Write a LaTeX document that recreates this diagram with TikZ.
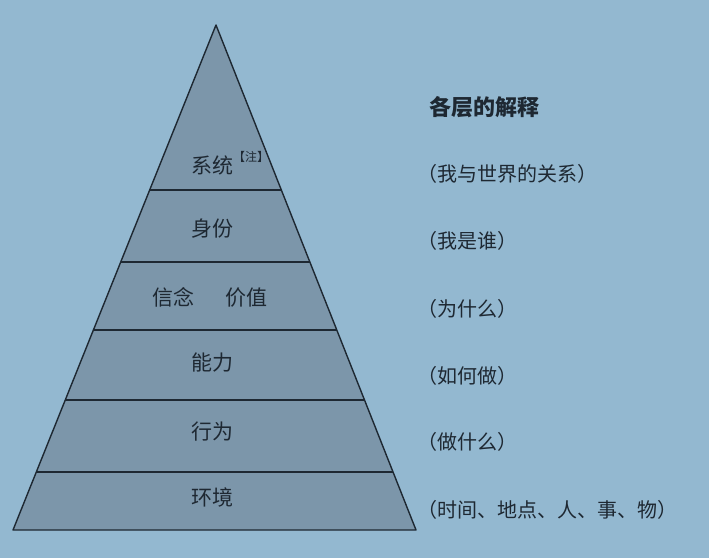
\documentclass[tikz,border=0pt]{standalone}
\usepackage{fontspec}
\newfontfamily\cjk{Noto Sans CJK SC}
\usepackage{tikz}
\usetikzlibrary{positioning, calc}
\definecolor{bgblue}{RGB}{147,184,208}
\definecolor{pyrfill}{RGB}{124,150,170}
\definecolor{inkdark}{RGB}{30,40,50}

\begin{document}
\begin{tikzpicture}[
    x=1pt, y=-1pt,
    layer/.style={font=\cjk\fontsize{21}{21}\selectfont, text=inkdark},
    note/.style={font=\cjk\fontsize{20}{20}\selectfont, text=inkdark, anchor=west},
    edge/.style={draw=inkdark, line width=1.4pt, line join=round},
]

\fill[bgblue] (0,0) rectangle (709,558);
\useasboundingbox (0,0) rectangle (709,558);

% pyramid
\coordinate (apex) at (216,25);
\coordinate (baseL) at (13,530);
\coordinate (baseR) at (416,530);
\filldraw[fill=pyrfill, edge] (apex) -- (baseL) -- (baseR) -- cycle;

\foreach \y in {190,262,330,400,472} {
    \draw[edge] ($(apex)!{(\y-25)/505}!(baseL)$) -- ($(apex)!{(\y-25)/505}!(baseR)$);
}

% layer labels
\node[layer] (sys) at (212,163) {系统\rlap{\raisebox{0.55em}{\fontsize{12}{12}\selectfont 【注】}}};
\node[layer] (ident) at (212,229) {身份};
\node[layer] (belief) at (210,297) {信念\hspace{1.5em}价值};
\node[layer] (ability) at (212,363) {能力};
\node[layer] (behav) at (212,432) {行为};
\node[layer] (env) at (212,497) {环境};

% explanations
\node[note, font=\cjk\bfseries\fontsize{22}{22}\selectfont] (title) at (426,107) {各层的解释};
\node[note] (whysys) at (414,174) {（我与世界的关系）};
\node[note] (whyident) at (414,241) {（我是谁）};
\node[note] (whybelief) at (414,309) {（为什么）};
\node[note] (whyability) at (414,376) {（如何做）};
\node[note] (whybehav) at (414,442) {（做什么）};
\node[note] (whyenv) at (414,510) {（时间、地点、人、事、物）};

\end{tikzpicture}
\end{document}
